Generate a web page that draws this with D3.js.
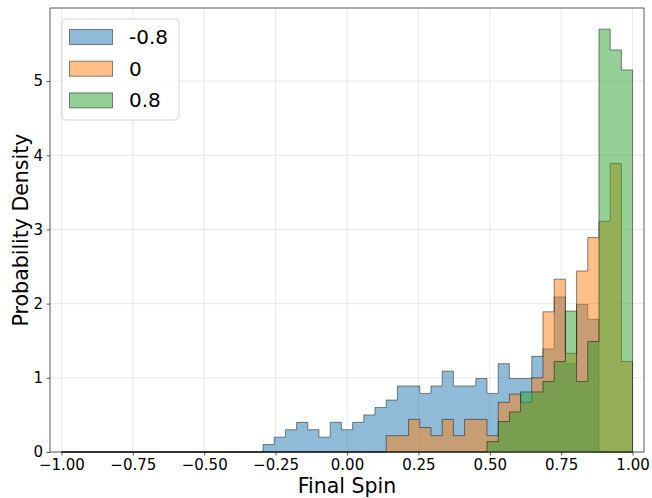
<!DOCTYPE html>
<html>
<head>
<meta charset="utf-8">
<script src="https://cdn.jsdelivr.net/npm/d3@7"></script>
<style>
  body { margin: 0; background: #fff; }
  text { font-family: "DejaVu Sans", sans-serif; }
</style>
</head>
<body>
<script>
// 51 bins from -1 to 1, densities
const nBins = 51;
const binEdges = d3.range(nBins + 1).map(i => -1 + i * 2 / nBins);

const seriesNames = ["-0.8", "0", "0.8"];
const seriesColors = ["#1f77b4", "#ff7f0e", "#2ca02c"];

const densityNeg08 = Array(18).fill(0).concat([
    0.10, 0.20, 0.30, 0.40, 0.30, 0.20, 0.40, 0.30, 0.40, 0.50,
    0.60, 0.70, 0.89, 0.89, 0.79, 0.89, 1.09, 0.89, 0.89, 0.99,
    0.79, 1.19, 0.99, 0.99, 1.29, 1.39, 2.09, 1.19, 1.99, 1.79,
    0, 0, 0]);
const densityZero = Array(29).fill(0).concat([
    0.22, 0.22, 0.44, 0.33, 0.22, 0.44, 0.22, 0.44, 0.44, 0.22,
    0.67, 0.78, 0.67, 1.00, 1.89, 2.33, 1.33, 2.44, 2.89, 3.11,
    3.89, 1.22]);
const densityPos08 = Array(38).fill(0).concat([
    0.14, 0.41, 0.54, 0.81, 0.81, 0.95, 1.22, 1.90, 0.95, 1.49,
    5.70, 5.42, 5.15]);

const densities = [densityNeg08, densityZero, densityPos08];

const xTicks = [-1, -0.75, -0.5, -0.25, 0, 0.25, 0.5, 0.75, 1];
const yTicks = [0, 1, 2, 3, 4, 5];

const width = 652, height = 498;
const margin = {top: 8, right: 8, bottom: 46, left: 50};

const svg = d3.select("body").append("svg")
    .attr("width", width)
    .attr("height", height);

const x = d3.scaleLinear()
    .domain([-1.04, 1.04])
    .range([margin.left, width - margin.right]);

const yMax = d3.max(densities, d => d3.max(d)) * 1.05;
const y = d3.scaleLinear()
    .domain([0, yMax])
    .range([height - margin.bottom, margin.top]);

// grid
svg.append("g")
    .selectAll("line")
    .data(xTicks)
    .join("line")
    .attr("x1", d => x(d)).attr("x2", d => x(d))
    .attr("y1", margin.top).attr("y2", height - margin.bottom)
    .attr("stroke", "#e3e3e3").attr("stroke-width", 0.8);
svg.append("g")
    .selectAll("line")
    .data(yTicks)
    .join("line")
    .attr("x1", margin.left).attr("x2", width - margin.right)
    .attr("y1", d => y(d)).attr("y2", d => y(d))
    .attr("stroke", "#e3e3e3").attr("stroke-width", 0.8);

// stepfilled histograms
const area = d3.area()
    .curve(d3.curveStepAfter)
    .x(d => x(d[0]))
    .y0(y(0))
    .y1(d => y(d[1]));

densities.forEach((dens, i) => {
    const pts = binEdges.map((e, k) => [e, dens[Math.min(k, nBins - 1)]]);
    svg.append("path")
        .attr("d", area(pts))
        .attr("fill", seriesColors[i])
        .attr("fill-opacity", 0.5)
        .attr("stroke", "#000")
        .attr("stroke-opacity", 0.45)
        .attr("stroke-width", 1);
});

// axes
const xAxis = svg.append("g")
    .attr("transform", `translate(0,${height - margin.bottom})`)
    .call(d3.axisBottom(x).tickValues(xTicks).tickFormat(d3.format(".2f"))
        .tickSize(3.5).tickPadding(4));
const yAxis = svg.append("g")
    .attr("transform", `translate(${margin.left},0)`)
    .call(d3.axisLeft(y).tickValues(yTicks).tickFormat(d3.format("d"))
        .tickSize(3.5).tickPadding(3.5));
[xAxis, yAxis].forEach(g => {
    g.attr("font-size", null).attr("font-family", null);
    g.select(".domain").remove();
    g.selectAll(".tick line").attr("stroke", "#333").attr("stroke-width", 0.8);
    g.selectAll(".tick text")
        .style("font-size", "15px")
        .style("font-family", "'DejaVu Sans', sans-serif")
        .attr("fill", "#000");
});

// frame
svg.append("rect")
    .attr("x", margin.left).attr("y", margin.top)
    .attr("width", width - margin.left - margin.right)
    .attr("height", height - margin.top - margin.bottom)
    .attr("fill", "none")
    .attr("stroke", "#333")
    .attr("stroke-width", 0.8);

// axis labels
svg.append("text")
    .attr("x", (margin.left + width - margin.right) / 2)
    .attr("y", 493)
    .attr("text-anchor", "middle")
    .style("font-size", "20.5px")
    .text("Final Spin");
svg.append("text")
    .attr("transform", `translate(28,${(margin.top + height - margin.bottom) / 2}) rotate(-90)`)
    .attr("text-anchor", "middle")
    .style("font-size", "20.5px")
    .text("Probability Density");

// legend
const legend = svg.append("g");
legend.append("rect")
    .attr("x", 62).attr("y", 19)
    .attr("width", 117).attr("height", 101)
    .attr("rx", 4)
    .attr("fill", "#fff").attr("fill-opacity", 0.8)
    .attr("stroke", "#cccccc").attr("stroke-width", 0.8);
seriesNames.forEach((name, i) => {
    const cy = 37 + i * 31.7;
    legend.append("rect")
        .attr("x", 69.5).attr("y", cy - 7.5)
        .attr("width", 43).attr("height", 15)
        .attr("fill", seriesColors[i]).attr("fill-opacity", 0.5)
        .attr("stroke", "#000").attr("stroke-opacity", 0.45).attr("stroke-width", 1);
    legend.append("text")
        .attr("x", 129).attr("y", cy + 7)
        .style("font-size", "20px")
        .text(name);
});
</script>
</body>
</html>
